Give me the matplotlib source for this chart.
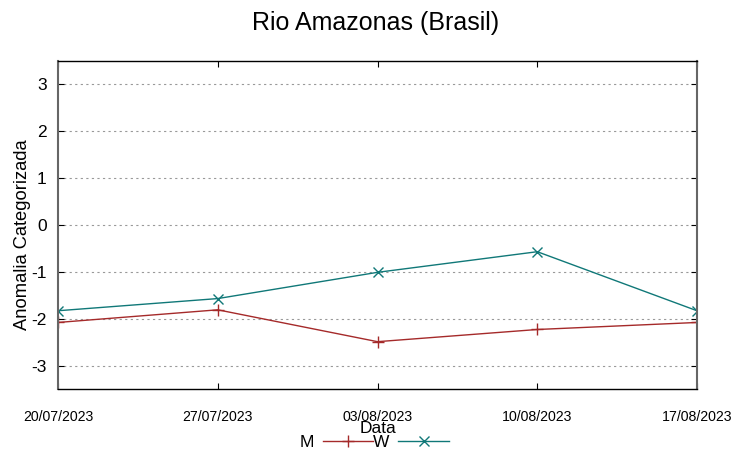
import matplotlib.pyplot as plt
import matplotlib.dates as mdates
import pandas as pd

datas = ["20/07/2023", "27/07/2023", "03/08/2023", "10/08/2023", "17/08/2023"]
serie_m = [-2.08, -1.81, -2.49, -2.23, -2.08]
serie_w = [-1.83, -1.57, -1.01, -0.57, -1.83]

x = pd.to_datetime(datas, format="%d/%m/%Y")

plt.rcParams['font.family'] = ['Liberation Sans', 'DejaVu Sans']
plt.rcParams['axes.unicode_minus'] = False

fig = plt.figure(figsize=(7.52, 4.59), dpi=100)
ax = fig.add_axes([0.0771, 0.1525, 0.8498, 0.7146])

ax.plot(x, serie_m, color="#a52a2a", lw=1, marker="+", ms=9, mew=1, label="M")
ax.plot(x, serie_w, color="#107878", lw=1, marker="x", ms=7, mew=1, label="W")

ax.set_xlim(x[0], x[-1])
ax.set_ylim(-3.5, 3.5)
ax.set_yticks([-3, -2, -1, 0, 1, 2, 3])
ax.set_xticks(x)
ax.xaxis.set_major_formatter(mdates.DateFormatter("%d/%m/%Y"))
ax.yaxis.grid(True, linestyle=(0, (2, 3)), color="#999999", lw=0.8)

ax.tick_params(axis="y", direction="in", length=4, labelsize=12.5, right=True, pad=8)
ax.tick_params(axis="x", direction="in", length=4, labelsize=10.2, top=True, pad=15)
for s in ax.spines.values():
    s.set_linewidth(1)
ax.spines["left"].set_color("#666666")
ax.spines["right"].set_color("#666666")
ax.spines["left"].set_linewidth(1.5)
ax.spines["right"].set_linewidth(1.5)

ax.set_xlabel("Data", fontsize=12.5, labelpad=-2)
ax.set_ylabel("Anomalia Categorizada", fontsize=13.2)
ax.yaxis.set_label_coords(-0.042, 0.47)
fig.suptitle("Rio Amazonas (Brasil)", fontsize=18, y=0.975)

ax.legend(loc="center", bbox_to_anchor=(0.495, -0.163), ncol=2, frameon=False,
          markerfirst=False, fontsize=12.5, handlelength=2.9, columnspacing=0.0,
          handletextpad=0.5, borderpad=0)

fig.savefig("out.png", dpi=100)
